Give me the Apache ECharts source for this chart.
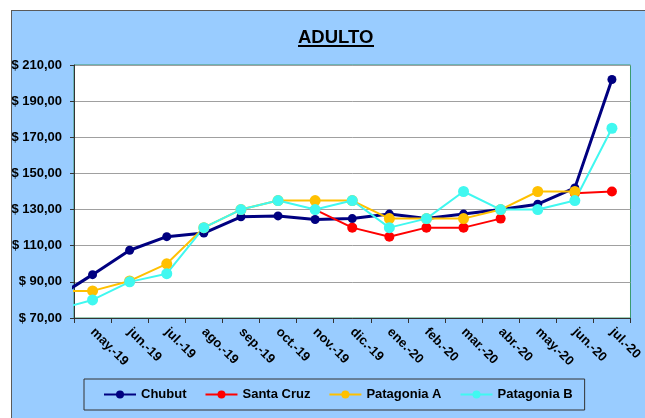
<!DOCTYPE html>
<html>
<head>
<meta charset="utf-8">
<script src="https://cdn.jsdelivr.net/npm/echarts@6/dist/echarts.min.js"></script>
<style>
html,body{margin:0;padding:0;background:#fff;}
#frame{position:absolute;left:11px;top:10px;width:660px;height:430px;background:#99CCFF;border:1px solid #5a5a5a;box-sizing:border-box;}
#chart{position:absolute;left:0;top:0;width:645px;height:418px;}
body{width:645px;height:418px;overflow:hidden;position:relative;}
</style>
</head>
<body>
<div id="frame"></div>
<div id="chart"></div>
<script>
var categories = ['abr.-19','may.-19','jun.-19','jul.-19','ago.-19','sep.-19','oct.-19','nov.-19','dic.-19','ene.-20','feb.-20','mar.-20','abr.-20','may.-20','jun.-20','jul.-20'];
var chubut     = [81, 94, 107.5, 115, 117, 126, 126.5, 124.5, 125, 127.5, 125, 127.5, 130, 133, 142, 202];
var santaCruz  = [null, null, null, null, null, null, null, 130, 120, 115, 120, 120, 125, null, 139, 140];
var patagoniaA = [85, 85, 90.5, 100, 120, 130, 135, 135, 135, 125, 125, 125, 130, 140, 140, null];
var patagoniaB = [74.5, 80, 90, 94.5, 120, 130, 135, 130, 135, 120, 125, 140, 130, 130, 135, 175];
var yTicks = [70, 90, 110, 130, 150, 170, 190, 210];
var seriesNames = ['Chubut', 'Santa Cruz', 'Patagonia A', 'Patagonia B'];

var font = '"Liberation Sans", Arial, sans-serif';
var chart = echarts.init(document.getElementById('chart'), null, {renderer: 'canvas'});

function mk(name, data, color, width, size) {
  return {
    name: name, type: 'line', data: data, color: color,
    symbol: 'circle', symbolSize: size, connectNulls: false, clip: true,
    lineStyle: {color: color, width: width},
    itemStyle: {color: color},
    emphasis: {disabled: true},
    animation: false
  };
}

chart.setOption({
  animation: false,
  backgroundColor: 'transparent',
  title: {
    text: 'ADULTO', left: 298, top: 28, padding: 0,
    textStyle: {fontFamily: font, fontWeight: 'bold', fontSize: 18.5, color: '#000'}
  },
  graphic: [{
    type: 'line', shape: {x1: 298, y1: 46, x2: 374, y2: 46},
    style: {stroke: '#000', lineWidth: 2}
  }],
  grid: {
    left: 74, top: 65, right: 8, bottom: 100,
    show: true, backgroundColor: '#fff', borderColor: '#3A9A6E', borderWidth: 1
  },
  legend: {
    data: seriesNames,
    left: 84, top: 379,
    padding: [9, 12, 9, 19],
    itemWidth: 32, itemHeight: 10, itemGap: 18,
    backgroundColor: '#99CCFF', borderColor: '#333', borderWidth: 1,
    textStyle: {fontFamily: font, fontWeight: 'bold', fontSize: 13, color: '#000'}
  },
  xAxis: {
    type: 'category', data: categories, min: 1, boundaryGap: true,
    axisLine: {lineStyle: {color: '#333', width: 1}},
    axisTick: {show: true, length: 5, lineStyle: {color: '#333'}},
    axisLabel: {
      interval: 0, rotate: -45, margin: 12,
      fontFamily: font, fontWeight: 'bold', fontSize: 13, color: '#000'
    },
    splitLine: {show: false}
  },
  yAxis: {
    type: 'value', min: yTicks[0], max: yTicks[yTicks.length - 1], interval: 20,
    axisLine: {show: true, lineStyle: {color: '#333', width: 1}},
    axisTick: {show: true, length: 4, lineStyle: {color: '#333'}},
    axisLabel: {
      margin: 12, fontFamily: font, fontWeight: 'bold', fontSize: 13, color: '#000',
      formatter: function (v) { return '$ ' + v.toFixed(2).replace('.', ','); }
    },
    splitLine: {show: true, lineStyle: {color: '#A0A0A0', width: 1}}
  },
  series: [
    mk(seriesNames[0], chubut, '#000080', 3, 9),
    mk(seriesNames[1], santaCruz, '#FF0000', 2, 10),
    mk(seriesNames[2], patagoniaA, '#FFC000', 2, 11),
    mk(seriesNames[3], patagoniaB, '#40F8F0', 2, 11)
  ]
});
</script>
</body>
</html>
